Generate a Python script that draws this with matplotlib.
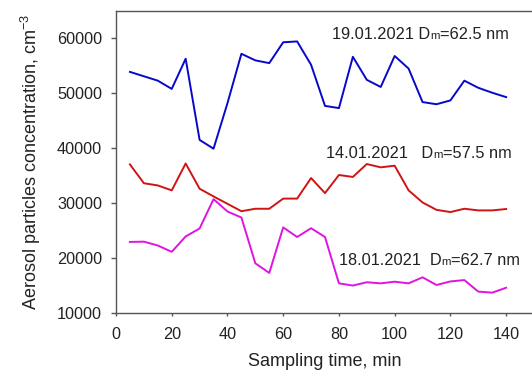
import numpy as np
import matplotlib
matplotlib.use('Agg')
import matplotlib.pyplot as plt
from matplotlib.offsetbox import TextArea, HPacker, AnnotationBbox

plt.rcParams['font.family'] = ['Liberation Sans', 'DejaVu Sans']
plt.rcParams['mathtext.fontset'] = 'custom'
plt.rcParams['mathtext.rm'] = 'Liberation Sans'
plt.rcParams['mathtext.it'] = 'Liberation Sans:italic'

# sampling time, min
time = np.arange(5, 145, 5)

# 19.01.2021, Dm=62.5 nm
conc_19 = [53900, 53100, 52300, 50800, 56300, 41500, 39900, 48200, 57200, 56000,
           55500, 59300, 59450, 55200, 47700, 47300, 56650, 52450, 51150, 56800,
           54500, 48400, 48000, 48700, 52300, 51000, 50100, 49300]
# 14.01.2021, Dm=57.5 nm
conc_14 = [37040, 33600, 33200, 32300, 37200, 32600, 31200, 29850, 28500, 28950,
           28950, 30800, 30800, 34550, 31800, 35100, 34750, 37100, 36500, 36800,
           32300, 30100, 28750, 28350, 28950, 28650, 28650, 28900]
# 18.01.2021, Dm=62.7 nm
conc_18 = [22900, 22950, 22250, 21100, 23900, 25350, 30700, 28450, 27350, 19000,
           17250, 25550, 23800, 25400, 23800, 15350, 14950, 15550, 15350, 15650,
           15350, 16450, 15050, 15700, 15950, 13850, 13650, 14550]

labels = [('19.01.2021 D', 'm', '=62.5 nm'),
          ('14.01.2021   D', 'm', '=57.5 nm'),
          ('18.01.2021  D', 'm', '=62.7 nm')]
label_pos = [(77.5, 60700), (75.5, 39000), (80.0, 19600)]
colors = ['#0808c8', '#d01414', '#e014e0']
txtc = '#222222'

fig = plt.figure(figsize=(5.32, 3.73), dpi=100)
ax = fig.add_axes([116/532, 60.3/373, 418/532, 301.7/373])

for vals, c in zip([conc_19, conc_14, conc_18], colors):
    ax.plot(time, vals, color=c, lw=1.4)

for (a, b, cc), (x, y) in zip(labels, label_pos):
    box = HPacker(children=[TextArea(a, textprops=dict(size=11.8, color=txtc)),
                            TextArea(b, textprops=dict(size=8.2, color=txtc)),
                            TextArea(cc, textprops=dict(size=11.8, color=txtc))],
                  align='baseline', pad=0, sep=0)
    ab = AnnotationBbox(box, (x, y), xycoords='data', box_alignment=(0, 0.5),
                        frameon=False, pad=0)
    ax.add_artist(ab)

ax.set_xlim(0, 150)
ax.set_ylim(10000, 65000)
ax.set_xticks(np.arange(0, 141, 20))
ax.set_yticks(np.arange(10000, 60001, 10000))
ax.spines['right'].set_visible(False)
for s in ['left', 'bottom', 'top']:
    ax.spines[s].set_color('#555555')
    ax.spines[s].set_linewidth(1.0)
ax.tick_params(direction='out', width=1, color='#555555',
               labelsize=11.7, labelcolor=txtc)
ax.tick_params(axis='x', length=2.2, pad=8)
ax.tick_params(axis='y', length=3.6, pad=6.5)
ax.set_xlabel('Sampling time, min', fontsize=13, color=txtc, labelpad=8)
ax.set_ylabel('Aerosol particles concentration, cm$^{-3}$', fontsize=13,
              color=txtc, labelpad=10)

fig.savefig('out.png', dpi=100)
